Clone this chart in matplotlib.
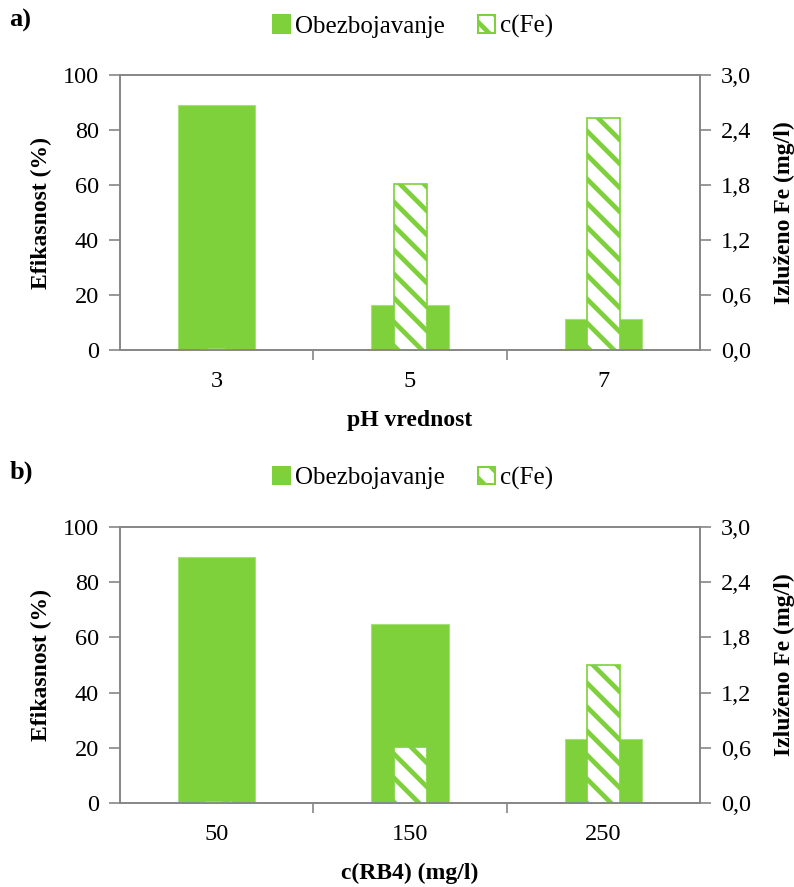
import numpy as np
import matplotlib.pyplot as plt
from matplotlib.patches import Patch

# figure is drawn at 144 dpi so the hatch stripes get the wider spacing of the original;
# sizes below are given as if at 100 dpi and scaled by k
DPI = 144
k = 100 / DPI

plt.rcParams['font.family'] = ['Liberation Serif', 'DejaVu Serif']
plt.rcParams['hatch.linewidth'] = 3.4 * k

# data
ph_labels = ['3', '5', '7']
ph_obez = [89, 16.5, 11.2]
ph_fe = [0.02, 1.81, 2.53]

rb_labels = ['50', '150', '250']
rb_obez = [89.3, 65, 23.1]
rb_fe = [0.02, 0.61, 1.50]

green = '#7ED13A'
grey = '#868686'
hatch = '\\\\'

fig = plt.figure(figsize=(794 / DPI, 887 / DPI), dpi=DPI)


def panel(rect, labels, obez, fe, xlabel, tag, leg_y, tag_y):
    ax = fig.add_axes(rect)
    x = np.arange(len(labels))
    ax.bar(x, obez, width=0.40, color=green, edgecolor='#A6E07A', linewidth=0.8 * k)
    ax.set_xlim(-0.5, len(labels) - 0.5)
    ax.set_ylim(0, 100)
    ax.set_yticks(np.arange(0, 101, 20))
    ax.set_xticks(x)
    ax.set_xticklabels(labels)
    ax.set_xticks(np.arange(0.5, len(labels) - 0.5, 1), minor=True)
    ax.tick_params(axis='x', which='major', length=0, pad=15 * k, labelsize=17.5 * k)
    ax.tick_params(axis='x', which='minor', length=7 * k, width=1.2 * k, color=grey, direction='out')
    ax.tick_params(axis='y', length=8 * k, width=1.2 * k, color=grey, direction='out',
                   labelsize=17.5 * k, pad=7 * k)
    for s in ax.spines.values():
        s.set_color(grey)
        s.set_linewidth(1.2 * k)
    ax.set_ylabel('Efikasnost (%)', fontsize=17 * k, fontweight='bold', labelpad=8 * k)
    ax.set_xlabel(xlabel, fontsize=17 * k, fontweight='bold', labelpad=13 * k)

    ax2 = ax.twinx()
    ax2.bar(x, fe, width=0.17, facecolor='white', edgecolor=green, hatch=hatch, linewidth=1.2 * k)
    ax2.set_ylim(0, 3.0)
    ax2.set_yticks(np.arange(0, 3.01, 0.6))
    ax2.set_yticklabels([f'{v:.1f}'.replace('.', ',') for v in np.arange(0, 3.01, 0.6)])
    ax2.tick_params(axis='y', length=8 * k, width=1.2 * k, color=grey, direction='out',
                    labelsize=17.5 * k, pad=7 * k)
    for s in ax2.spines.values():
        s.set_color(grey)
        s.set_linewidth(1.2 * k)
    ax2.set_ylabel('Izluženo Fe (mg/l)', fontsize=17 * k, fontweight='bold', labelpad=16 * k)

    handles = [Patch(facecolor=green, edgecolor=green),
               Patch(facecolor='white', edgecolor=green, hatch=hatch)]
    fig.legend(handles, ['Obezbojavanje', 'c(Fe)'], loc='center',
               bbox_to_anchor=(0.52, leg_y), ncol=2, frameon=False, fontsize=18 * k,
               handlelength=0.7, handleheight=0.7, handletextpad=0.2, columnspacing=1.3)
    fig.text(0.012, tag_y, tag, fontsize=19 * k, fontweight='bold', va='center')


panel([0.151, 0.6054, 0.731, 0.31], ph_labels, ph_obez, ph_fe, 'pH vrednost', 'a)', 0.970, 0.977)
panel([0.151, 0.0947, 0.731, 0.3112], rb_labels, rb_obez, rb_fe, 'c(RB4) (mg/l)', 'b)', 0.461, 0.468)

fig.savefig('out.png', dpi=DPI)
